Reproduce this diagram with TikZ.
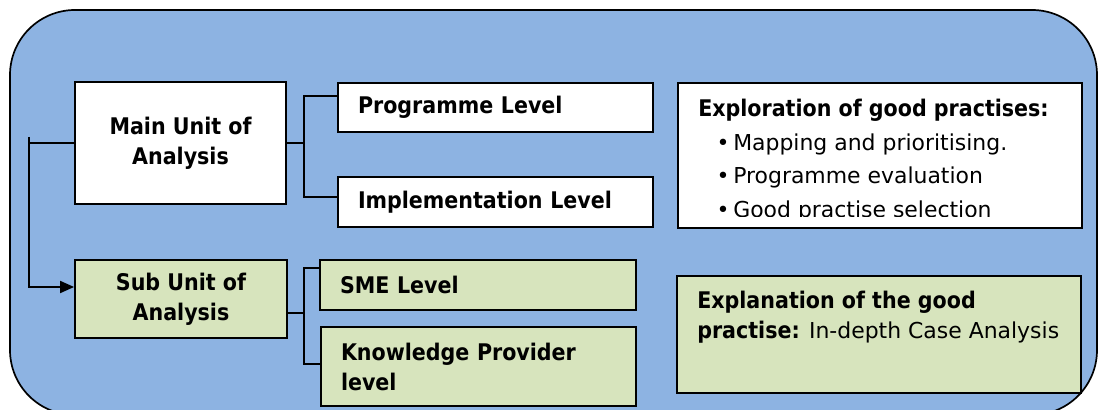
\documentclass[tikz,border=0pt]{standalone}
\usepackage{fontspec}
\setmainfont{DejaVu Sans}[BoldFont={DejaVu Sans Condensed Bold}, BoldFeatures={Scale=1.045}]
\usetikzlibrary{arrows.meta,positioning,calc}
\definecolor{unitBlue}{RGB}{141,179,226}
\definecolor{unitSage}{RGB}{215,228,189}
\tikzset{unitpanel/.style={
  font=\fontsize{15.6pt}{21.3pt}\selectfont,
  frame/.style={rounded corners=1.625cm, fill=unitBlue, draw=black, line width=1.2pt},
  unitbox/.style={draw=black, line width=1.3pt, inner sep=0pt, align=center, font=\fontsize{15.6pt}{21.3pt}\selectfont\bfseries},
  levelbox/.style={draw=black, line width=1.3pt, inner xsep=0.5cm, inner ysep=0pt, align=left, font=\fontsize{15.6pt}{21.3pt}\selectfont\bfseries},
  notebox/.style={draw=black, line width=1.3pt, inner sep=0pt, minimum width=10.1cm},
  notetext/.style={anchor=north west, inner sep=0pt, align=left},
  link/.style={line width=1.3pt},
  feed/.style={-{Triangle[length=3.5mm, width=3mm]}, line width=1.3pt},
}}

\begin{document}
\begin{tikzpicture}[unitpanel]

\useasboundingbox (0,0) rectangle (27.475,10.25);

% ---- rounded panel ----
\draw[frame] (0.25,-0.125) rectangle (27.425,10.0);

% ---- units of analysis ----
\node[unitbox, fill=white, minimum width=5.275cm, minimum height=3.05cm] (main) at (4.5125,6.675) {Main Unit of\\Analysis};
\node[unitbox, fill=unitSage, minimum width=5.3cm, minimum height=1.95cm] (sub) at (4.525,2.775) {Sub Unit of\\Analysis};

% ---- levels ----
\node[levelbox, fill=white, text width=6.875cm, minimum height=1.225cm] (prog) at (12.3875,7.5625) {Programme Level};
\node[levelbox, fill=white, text width=6.875cm, minimum height=1.25cm] (impl) at (12.3875,5.2) {Implementation Level};
\node[levelbox, fill=unitSage, text width=6.9cm, minimum height=1.25cm] (sme) at (11.95,3.125) {SME Level};
\node[levelbox, fill=unitSage, text width=6.875cm, minimum height=1.975cm] (kp) at (11.9625,1.0875) {Knowledge Provider\\level};

% ---- good practise boxes ----
\node[notebox, fill=white, minimum height=3.625cm] (explo) at (22.0,6.3625) {};
\node[notebox, fill=unitSage, minimum height=2.925cm] (expla) at (21.975,1.8875) {};

\begin{scope}
  \clip (16.95,4.825) rectangle (27.05,8.175);
  \node[notetext, font=\fontsize{15.6pt}{24pt}\selectfont] (explotext) at (17.45,7.78) {%
    \textbf{Exploration of good practises:}\\
    \hspace*{0.46cm}\textbullet\,Mapping and prioritising.\\
    \hspace*{0.46cm}\textbullet\,Programme evaluation\\
    \hspace*{0.46cm}\textbullet\,Good practise selection};
\end{scope}
\node[notetext] (explatext) at (17.425,2.975) {%
  \textbf{Explanation of the good}\\
  \textbf{practise:} In-depth Case Analysis};

% ---- main unit to its levels ----
\coordinate (mfork) at (7.6,6.675);
\draw[link] (main.east) -- (mfork);
\draw[link] ([yshift=0.29cm]prog.west) -| (mfork) |- ([yshift=0.12cm]impl.west);

% ---- main unit down to sub unit ----
\coordinate (lbus) at (0.725,6.825);
\draw[link] (main.west) -- (main.west -| lbus);
\draw[feed] (lbus) |- ([yshift=0.3cm]sub.west);

% ---- sub unit to its levels ----
\coordinate (sfork) at (7.6,2.425);
\draw[link] ([yshift=-0.35cm]sub.east) -- (sfork);
\draw[link] ([yshift=0.425cm]sme.west) -| (sfork) |- ([yshift=0.06cm]kp.west);

\end{tikzpicture}
\end{document}
